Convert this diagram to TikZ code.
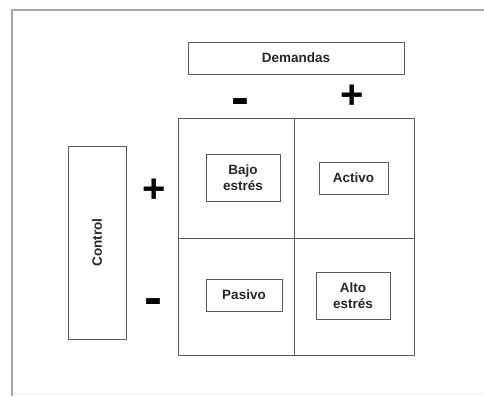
\documentclass[tikz,border=0pt]{standalone}
\usepackage{fontspec}
\setmainfont{Liberation Sans}
\begin{document}
\begin{tikzpicture}[x=1pt,y=-1pt,
  frameline/.style={draw=black!35, line width=1.2pt},
  faintline/.style={draw=black!6, line width=0.8pt},
  cell/.style={draw=black!65, line width=0.9pt, minimum width=#1, inner sep=0pt},
  labelbox/.style={draw=black!65, line width=0.8pt, inner sep=0pt, align=center,
    font=\fontsize{13.5}{16}\selectfont\bfseries, text=black!85},
  sign/.style={inner sep=0pt, font=\fontsize{40}{40}\selectfont\bfseries},
  minussign/.style={inner sep=0pt, font=\fontsize{40}{40}\selectfont\bfseries}]
\useasboundingbox (0,0) rectangle (484,396);
\fill[white] (0,0) rectangle (484,396);
% outer frame
\coordinate (ftr) at (484,10);
\coordinate (ftl) at (12,10);
\coordinate (fbl) at (12,396);
\coordinate (fbr) at (484,393);
\coordinate (fbl2) at (12,393);
\draw[faintline] (fbl2) -- (fbr);
\draw[frameline] (ftr) -- (ftl) -- (fbl);
% Demandas
\node[labelbox, minimum width=216pt, minimum height=32pt] (dem) at (296,58) {Demandas};
\node[minussign] (dminus) at (240.5,107) {\scalebox{1.35}[1.25]{-}};
\node[sign] (dplus) at (352,97) {+};
% grid cells
\node[cell=116pt, minimum height=120pt] (c11) at (236,178) {};
\node[cell=120pt, minimum height=120pt] (c12) at (354,178) {};
\node[cell=116pt, minimum height=117pt] (c21) at (236,296.5) {};
\node[cell=120pt, minimum height=117pt] (c22) at (354,296.5) {};
% Control
\node[labelbox, minimum width=58pt, minimum height=193pt] (ctl) at (97,242.5) {};
\node[rotate=90, inner sep=0pt, font=\fontsize{13.5}{16}\selectfont\bfseries, text=black!85] (ctltext) at (ctl.center) {Control};
\node[sign] (cplus) at (154.5,191) {+};
\node[minussign] (cminus) at (153,307) {\scalebox{1.35}[1.25]{-}};
% quadrant labels
\node[labelbox, minimum width=74pt, minimum height=47pt] (bajo) at (243,177.5) {Bajo\\estrés};
\node[labelbox, minimum width=69pt, minimum height=32pt] (activo) at (353.5,178) {Activo};
\node[labelbox, minimum width=76pt, minimum height=32pt] (pasivo) at (244,295) {Pasivo};
\node[labelbox, minimum width=74pt, minimum height=47pt] (alto) at (353,295.5) {Alto\\estrés};
\end{tikzpicture}
\end{document}
